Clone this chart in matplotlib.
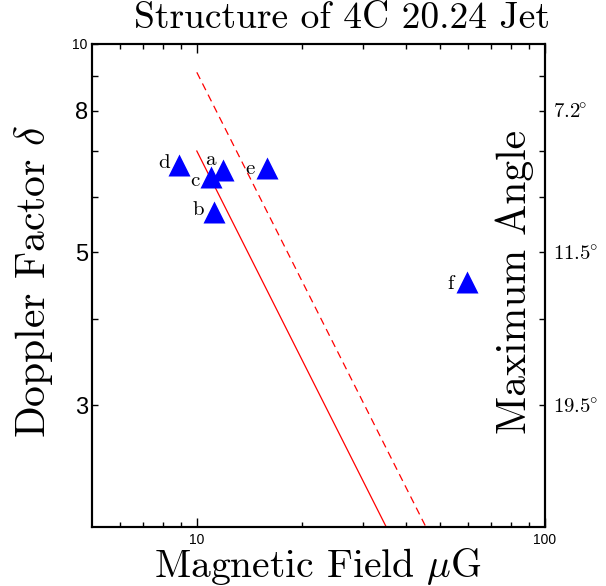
import matplotlib
matplotlib.use('Agg')
import matplotlib.pyplot as plt
from matplotlib.ticker import FixedLocator, FixedFormatter, NullFormatter

plt.rcParams['mathtext.fontset'] = 'cm'

# ---- data ----
knot_labels = ['a', 'b', 'c', 'd', 'e', 'f']
field_uG = [11.9, 11.2, 11.0, 8.9, 15.9, 59.8]
doppler = [6.57, 5.72, 6.41, 6.69, 6.61, 4.53]

solid_field = [10.0, 35.0]
solid_doppler = [7.0, 2.0]
dashed_field = [10.0, 45.5]
dashed_doppler = [9.1, 2.0]

y_major = [3, 5, 8, 10]
y_major_labels = ['3', '5', '8', '10']
y_minor = [4, 6, 7, 9]
angle_ticks = [8, 5, 3]
angle_labels = [r'$7.2^{\!\!\circ}$', r'$11.5^{\!\!\circ}$', r'$19.5^{\!\!\circ}$']
x_major = [10, 100]
x_major_labels = ['10', '100']
x_minor = [6, 7, 8, 9, 20, 30, 40, 50, 60, 70, 80, 90]

# label offsets in points (style, not data)
label_offsets = [(-9.4, 7.2), (-11.2, 1.1), (-12.0, -2.4), (-11.1, 1.1), (-12.0, -0.4), (-12.2, -2.0)]

fig = plt.figure(figsize=(6.06, 5.86), dpi=100)
ax = fig.add_axes([92/606, 1-527/586, (545-92)/606, (527-44)/586])
ax.set_xscale('log')
ax.set_yscale('log')
ax.set_xlim(5, 100)
ax.set_ylim(2, 10)

ax.plot(solid_field, solid_doppler, color='red', lw=0.9)
ax.plot(dashed_field, dashed_doppler, color='red', lw=0.9, dashes=(6, 4))
ax.plot(field_uG, doppler, linestyle='none', marker='^', ms=15.5, color='blue', mec='none')
for lab, x, y, off in zip(knot_labels, field_uG, doppler, label_offsets):
    ax.annotate(lab, (x, y), xytext=off, textcoords='offset points',
                ha='center', va='center', fontsize=15, family='cmr10')

ax.xaxis.set_major_locator(FixedLocator(x_major))
ax.xaxis.set_major_formatter(FixedFormatter(x_major_labels))
ax.xaxis.set_minor_locator(FixedLocator(x_minor))
ax.xaxis.set_minor_formatter(NullFormatter())
ax.yaxis.set_major_locator(FixedLocator(y_major))
ax.yaxis.set_major_formatter(FixedFormatter(y_major_labels))
ax.yaxis.set_minor_locator(FixedLocator(y_minor))
ax.yaxis.set_minor_formatter(NullFormatter())

ax.tick_params(axis='x', which='major', direction='in', length=6.5, width=1, top=True, pad=4.5,
               labelsize=10)
ax.tick_params(axis='x', which='minor', direction='in', length=3.5, width=1, top=True)
ax.tick_params(axis='y', which='both', direction='in', length=4, width=1, right=False, pad=3,
               labelsize=17)
for t in ax.get_xticklabels():
    t.set_family('Liberation Sans')
for t in ax.get_yticklabels():
    t.set_family('Liberation Sans')
    if t.get_text() == '10':
        t.set_fontsize(10)
for s in ax.spines.values():
    s.set_linewidth(1.5)

ax2 = ax.twinx()
ax2.set_yscale('log')
ax2.set_ylim(2, 10)
ax2.yaxis.set_major_locator(FixedLocator(angle_ticks))
ax2.yaxis.set_major_formatter(FixedFormatter(angle_labels))
ax2.yaxis.set_minor_locator(FixedLocator(y_minor))
ax2.yaxis.set_minor_formatter(NullFormatter())
ax2.tick_params(axis='y', which='both', direction='in', length=4, width=1, pad=5.5, labelsize=15)
for s in ax2.spines.values():
    s.set_linewidth(1.5)

fig.text(342/606, 1-18/586, 'Structure of 4C 20.24 Jet', ha='center', va='center',
         fontsize=27, family='cmr10')
fig.text(318/606, 1-577/586, r'Magnetic Field $\mu$G', ha='center', va='baseline',
         fontsize=28.5, family='cmr10')
fig.text(34/606, 1-281/586, r'Doppler Factor $\delta$', ha='center', va='center',
         rotation=90, fontsize=30, family='cmr10')
ax.text((515-92)/453, 1-(282-44)/483, 'Maximum Angle', transform=ax.transAxes,
        ha='center', va='center', rotation=90, fontsize=30, family='cmr10')

fig.savefig('out.png', dpi=100)
